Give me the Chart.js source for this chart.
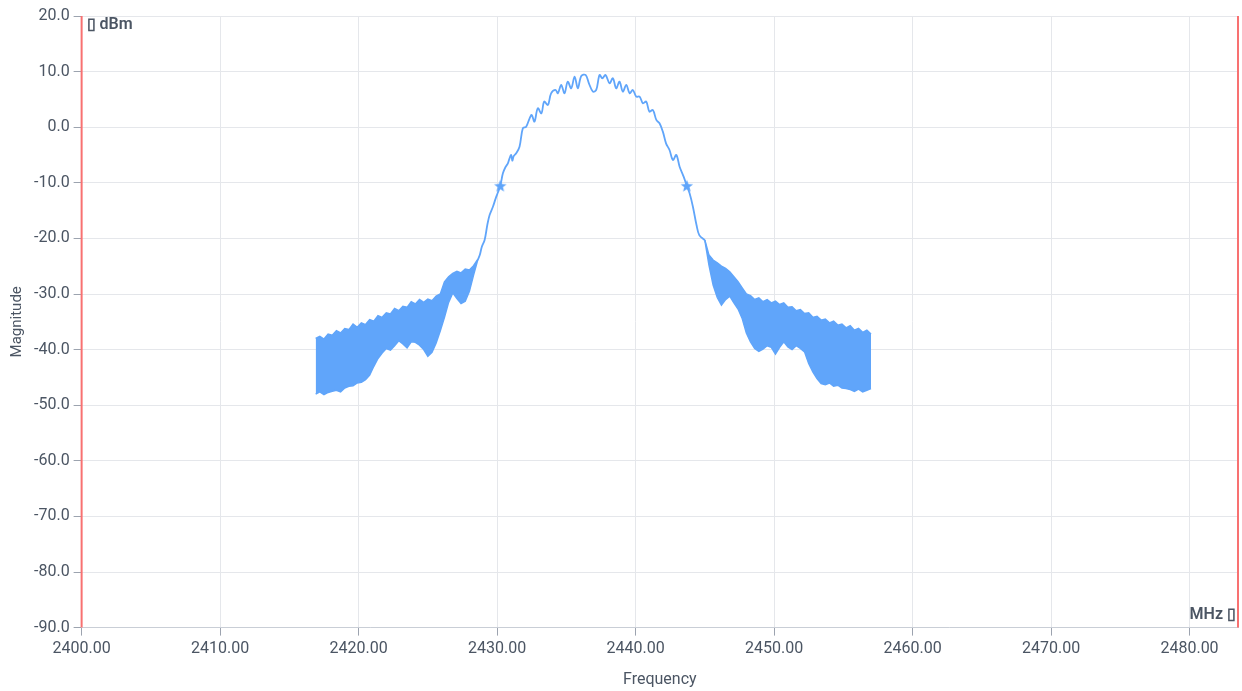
<!DOCTYPE html>
<html>
<head>
<meta charset="utf-8">
<script src="https://cdn.jsdelivr.net/npm/chart.js@4/dist/chart.umd.min.js"></script>
<style>
  html, body { margin: 0; padding: 0; background: #fff; overflow: hidden; }
  canvas { display: block; }
</style>
</head>
<body>
<canvas id="spectrum-chart" width="1242" height="691"></canvas>
<script>
// left noise band (MHz / dBm)
const leftFreq = [2416.9, 2417.2, 2417.5, 2417.8, 2418.1, 2418.4, 2418.7, 2419.0, 2419.3, 2419.6,
  2419.9, 2420.2, 2420.5, 2420.8, 2421.1, 2421.4, 2421.7, 2422.0, 2422.3, 2422.6,
  2422.9, 2423.2, 2423.5, 2423.8, 2424.1, 2424.4, 2424.7, 2425.0, 2425.3, 2425.6,
  2425.9, 2426.2, 2426.5, 2426.8, 2427.1, 2427.4, 2427.7, 2428.0, 2428.3, 2428.6];
const leftUpper = [-38.0, -37.6, -38.1, -37.2, -37.4, -36.6, -37.0, -36.2, -36.4, -35.4,
  -36.0, -35.2, -35.5, -34.6, -34.9, -33.9, -34.2, -33.4, -33.6, -32.6,
  -33.0, -32.2, -32.4, -31.4, -31.8, -31.0, -31.5, -30.9, -31.2, -30.4,
  -30.0, -27.8, -26.9, -26.3, -25.9, -26.2, -25.5, -25.7, -24.9, -23.8];
const leftLower = [-48.0, -47.6, -48.1, -47.7, -47.5, -47.3, -47.6, -46.9, -46.6, -46.5,
  -46.0, -45.9, -45.4, -44.6, -43.0, -41.6, -40.6, -39.8, -40.1, -39.3,
  -38.4, -39.0, -39.7, -38.6, -38.7, -39.2, -40.0, -41.2, -40.5, -38.8,
  -36.6, -34.2, -31.5, -29.8, -30.8, -31.7, -31.3, -29.5, -26.6, -23.9];

// right noise band
const rightFreq = [2445.0, 2445.3, 2445.6, 2445.9, 2446.2, 2446.5, 2446.8, 2447.1, 2447.4, 2447.7,
  2448.0, 2448.3, 2448.6, 2448.9, 2449.2, 2449.5, 2449.8, 2450.1, 2450.4, 2450.7,
  2451.0, 2451.3, 2451.6, 2451.9, 2452.2, 2452.5, 2452.8, 2453.1, 2453.4, 2453.7,
  2454.0, 2454.3, 2454.6, 2454.9, 2455.2, 2455.5, 2455.8, 2456.1, 2456.4, 2456.7, 2457.0];
const rightUpper = [-20.3, -23.0, -23.9, -24.4, -25.0, -25.4, -26.0, -26.9, -27.8, -28.9,
  -30.0, -30.3, -31.0, -30.7, -31.4, -31.0, -31.6, -31.3, -31.9, -31.6,
  -32.4, -32.3, -33.0, -32.8, -33.5, -33.4, -34.2, -34.0, -34.7, -34.5,
  -35.2, -34.9, -35.6, -35.4, -36.1, -35.7, -36.5, -36.2, -36.9, -36.5, -37.2];
const rightLower = [-20.3, -24.8, -28.4, -30.6, -32.0, -31.0, -30.4, -31.6, -32.7, -34.4,
  -37.0, -38.6, -39.8, -40.3, -39.9, -39.3, -39.6, -40.8, -39.6, -38.6,
  -39.5, -40.0, -39.3, -39.8, -40.4, -42.5, -44.0, -45.2, -46.1, -46.3,
  -46.0, -46.6, -46.4, -46.9, -47.0, -47.2, -47.5, -47.1, -47.6, -47.3, -47.0];

// main lobe
const lobeFreq = [2428.6, 2428.75, 2428.9, 2429.1, 2429.3, 2429.46, 2429.7, 2429.9, 2430.05, 2430.23,
  2430.42, 2430.6, 2430.78, 2430.9, 2431.02, 2431.1, 2431.2, 2431.38, 2431.62, 2431.86,
  2432.1, 2432.35, 2432.5, 2432.7, 2432.94, 2433.2, 2433.4, 2433.67, 2433.9, 2434.22,
  2434.39, 2434.63, 2434.87, 2435.1, 2435.35, 2435.6, 2435.83, 2436.08, 2436.39, 2436.63,
  2436.92, 2437.16, 2437.4, 2437.6, 2437.83, 2438.12, 2438.36, 2438.6, 2438.84, 2439.08,
  2439.33, 2439.57, 2439.8, 2440.05, 2440.29, 2440.53, 2440.77, 2441.0, 2441.25, 2441.5,
  2441.73, 2441.97, 2442.2, 2442.45, 2442.7, 2442.94, 2443.18, 2443.47, 2443.7, 2443.9,
  2444.14, 2444.4, 2444.6, 2445.0];
const lobeLevel = [-23.9, -23.0, -21.5, -20.3, -17.5, -15.8, -14.3, -12.8, -11.8, -10.55,
  -8.3, -7.2, -6.5, -5.6, -5.0, -6.0, -5.2, -4.7, -3.5, -0.2,
  0.1, 1.6, 2.2, 1.0, 3.4, 2.5, 4.6, 4.0, 6.1, 6.7,
  6.1, 7.6, 6.1, 8.2, 7.0, 9.1, 7.0, 9.2, 9.4, 7.9,
  6.4, 6.7, 9.4, 8.8, 9.4, 7.9, 8.8, 7.0, 8.2, 6.4,
  7.6, 6.1, 6.7, 5.5, 5.5, 4.3, 4.6, 2.8, 3.1, 1.3,
  0.7, -0.8, -2.9, -4.1, -5.9, -5.0, -7.1, -8.9, -10.55, -11.9,
  -14.3, -17.6, -19.4, -20.3];

// -20 dBc markers
const markerFreq = [2430.23, 2443.7];
const markerLevel = [-10.55, -10.55];

// band edges
const bandEdges = [2400, 2483.5];
const yMin = -90, yMax = 20;

const blue = '#60a5fa';
const red = '#f87171';
const textColor = '#4b5563';

function pts(xs, ys) {
  return xs.map((x, i) => ({ x: x, y: ys[i] }));
}

// filled five point star for the markers
const star = document.createElement('canvas');
star.width = 14; star.height = 14;
(function () {
  const c = star.getContext('2d');
  c.fillStyle = blue;
  c.beginPath();
  for (let i = 0; i < 10; i++) {
    const r = i % 2 === 0 ? 6.5 : 2.8;
    const a = -Math.PI / 2 + i * Math.PI / 5;
    const px = 7 + r * Math.cos(a), py = 7.5 + r * Math.sin(a);
    if (i === 0) c.moveTo(px, py); else c.lineTo(px, py);
  }
  c.closePath();
  c.fill();
})();

const bandStyle = {
  borderColor: blue,
  backgroundColor: blue,
  borderWidth: 1.5,
  pointRadius: 0,
  tension: 0
};

const edgeSets = bandEdges.map(f => ({
  data: [{ x: f, y: yMin }, { x: f, y: yMax }],
  borderColor: red,
  borderWidth: 2,
  pointRadius: 0,
  fill: false,
  clip: false
}));

const unitLabels = {
  id: 'unitLabels',
  afterDraw(chart) {
    const { ctx, chartArea } = chart;
    ctx.save();
    ctx.fillStyle = textColor;
    ctx.font = '600 16px Roboto';
    ctx.textBaseline = 'middle';
    ctx.textAlign = 'left';
    ctx.fillText('\u25AF dBm', chartArea.left + 5, chartArea.top + 9);
    ctx.textAlign = 'right';
    ctx.fillText('MHz \u25AF', chartArea.right - 2, chartArea.bottom - 13);
    ctx.restore();
  }
};

new Chart(document.getElementById('spectrum-chart'), {
  type: 'line',
  data: {
    datasets: [
      Object.assign({ data: pts(leftFreq, leftUpper), fill: false }, bandStyle),
      Object.assign({ data: pts(leftFreq, leftLower), fill: '-1' }, bandStyle),
      Object.assign({ data: pts(rightFreq, rightUpper), fill: false }, bandStyle),
      Object.assign({ data: pts(rightFreq, rightLower), fill: '-1' }, bandStyle),
      {
        data: pts(lobeFreq, lobeLevel),
        borderColor: blue,
        borderWidth: 1.8,
        pointRadius: 0,
        tension: 0.35,
        fill: false
      },
      {
        data: pts(markerFreq, markerLevel),
        showLine: false,
        pointStyle: star,
        pointRadius: 7
      },
      ...edgeSets
    ]
  },
  options: {
    responsive: false,
    animation: false,
    // autoPadding would reserve room for the star markers on every side
    layout: { autoPadding: false, padding: { top: 16, right: 4, left: 4, bottom: 1 } },
    plugins: {
      legend: { display: false },
      tooltip: { enabled: false }
    },
    scales: {
      x: {
        type: 'linear',
        min: 2400,
        max: 2483.5,
        afterFit: scale => { scale.paddingRight = 0; },
        title: { display: true, text: 'Frequency', color: textColor, font: { family: 'Roboto', size: 16 }, padding: { top: 8, bottom: 0 } },
        ticks: {
          stepSize: 10,
          includeBounds: false,
          color: textColor,
          font: { family: 'Roboto', size: 16 },
          maxRotation: 0,
          padding: 4,
          callback: v => v.toFixed(2)
        },
        grid: { color: '#e5e7eb', tickColor: '#9ca3af', tickLength: 8 },
        border: { color: '#c9ced6' }
      },
      y: {
        min: yMin,
        max: yMax,
        title: { display: true, text: 'Magnitude', color: textColor, font: { family: 'Roboto', size: 15 } },
        ticks: {
          stepSize: 10,
          color: textColor,
          font: { family: 'Roboto', size: 16 },
          padding: 4,
          callback: v => v.toFixed(1)
        },
        grid: { color: '#e5e7eb', tickColor: '#9ca3af', tickLength: 8 },
        border: { color: '#c9ced6' }
      }
    }
  },
  plugins: [unitLabels]
});
</script>
</body>
</html>
